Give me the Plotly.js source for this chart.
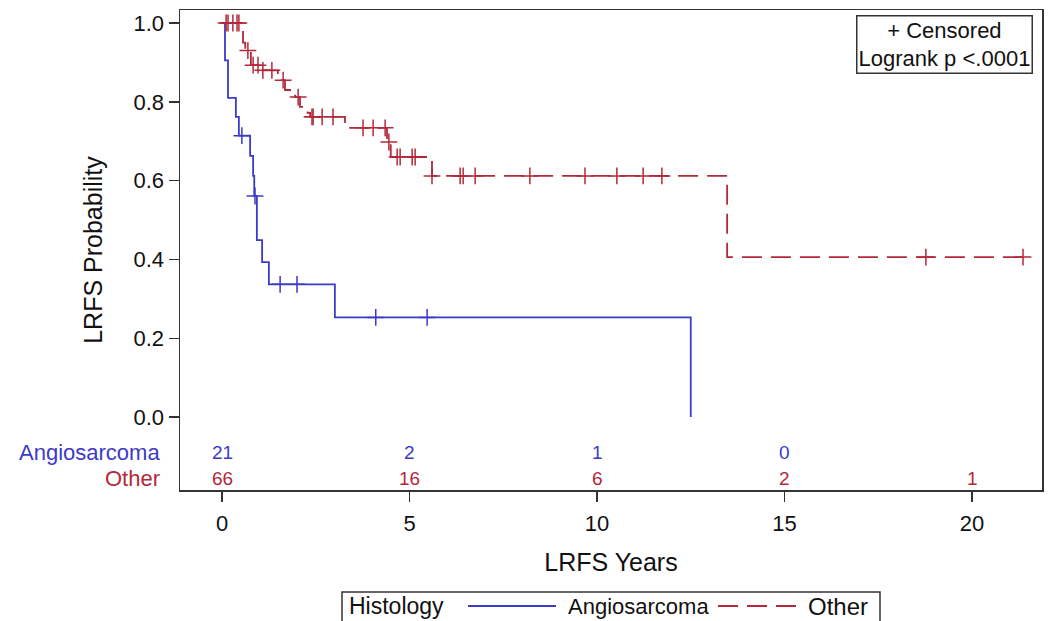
<!DOCTYPE html>
<html>
<head>
<meta charset="utf-8">
<script src="https://cdn.plot.ly/plotly-3.0.1.min.js"></script>
<style>
  html, body { margin: 0; padding: 0; background: #fff; }
  #chart { width: 1053px; height: 621px; }
</style>
</head>
<body>
<div id="chart"></div>
<script>
// ---- Data ----
const angioTimes = [0, 0.08, 0.16, 0.37, 0.45, 0.75, 0.83, 0.86, 0.93, 1.07, 1.25, 3.01, 12.5];
const angioSurv  = [1, 0.905, 0.81, 0.762, 0.714, 0.663, 0.612, 0.561, 0.449, 0.393, 0.337, 0.253, 0];
const angioCensor = [0.53, 0.88, 1.55, 2.0, 4.1, 5.47];

const otherTimes = [0, 0.56, 0.62, 0.77, 1.01, 1.49, 1.68, 1.95, 2.08, 2.28, 2.35, 3.28, 4.4, 4.5, 5.6, 13.47, 21.36];
const otherSurv  = [1, 0.95, 0.93, 0.893, 0.88, 0.855, 0.83, 0.812, 0.787, 0.772, 0.762, 0.734, 0.698, 0.66, 0.612, 0.406, 0.406];
const otherCensor = [0.11, 0.16, 0.29, 0.4, 0.45, 0.69, 0.83, 0.96, 1.09, 1.33, 1.63, 2.03, 2.4, 2.43, 2.67, 2.96,
                     3.76, 4.03, 4.35, 4.45, 4.67, 4.75, 5.07, 5.15, 5.6, 6.35, 6.43, 6.75, 8.21, 9.68, 10.53, 11.23, 11.73,
                     18.77, 21.36];

const riskTimes = [0, 5, 10, 15, 20];
const angioRisk = [21, 2, 1, 0, null];
const otherRisk = [66, 16, 6, 2, 1];

const groupNames = ['Angiosarcoma', 'Other'];
const xTicks = [0, 5, 10, 15, 20];
const yTicks = [0, 0.2, 0.4, 0.6, 0.8, 1.0];

// ---- Styles ----
const BLUE = '#3b3bc8';
const RED = '#b3283a';
const FONT = 'Liberation Sans, Arial, sans-serif';

function stepAt(t, times, surv) {
  let s = surv[0];
  for (let i = 0; i < times.length; i++) { if (times[i] <= t) s = surv[i]; }
  return s;
}

const traces = [
  { x: angioTimes, y: angioSurv, mode: 'lines', line: { shape: 'hv', color: BLUE, width: 1.8 }, showlegend: false, hoverinfo: 'skip' },
  { x: otherTimes, y: otherSurv, mode: 'lines', line: { shape: 'hv', color: RED, width: 1.8, dash: '20px,9px' }, showlegend: false, hoverinfo: 'skip' },
  { x: angioCensor, y: angioCensor.map(t => stepAt(t, angioTimes, angioSurv)), mode: 'markers',
    marker: { symbol: 'cross-thin', size: 12, line: { color: BLUE, width: 1.5 } }, showlegend: false, hoverinfo: 'skip' },
  { x: otherCensor, y: otherCensor.map(t => stepAt(t, otherTimes, otherSurv)), mode: 'markers',
    marker: { symbol: 'cross-thin', size: 12, line: { color: RED, width: 1.5 } }, showlegend: false, hoverinfo: 'skip' }
];

// plot area in pixels: left 180, right 1042, top 10, bottom 490
const L = 180, R = 1042, T = 10, B = 490;
const px = v => (v - L) / (R - L);
const py = v => (B - v) / (B - T);

const annotations = [];
// At-risk numbers
riskTimes.forEach((t, i) => {
  if (angioRisk[i] !== null) annotations.push({ x: t, y: -0.089, xref: 'x', yref: 'y', text: String(angioRisk[i]), showarrow: false,
    font: { family: FONT, size: 19, color: BLUE } });
  if (otherRisk[i] !== null) annotations.push({ x: t, y: -0.155, xref: 'x', yref: 'y', text: String(otherRisk[i]), showarrow: false,
    font: { family: FONT, size: 19, color: RED } });
});
// At-risk row labels
annotations.push({ x: px(162), y: -0.089, xref: 'paper', yref: 'y', xanchor: 'right', text: groupNames[0], showarrow: false,
  font: { family: FONT, size: 22, color: BLUE } });
annotations.push({ x: px(162), y: -0.155, xref: 'paper', yref: 'y', xanchor: 'right', text: groupNames[1], showarrow: false,
  font: { family: FONT, size: 22, color: RED } });
// Censored / logrank box
annotations.push({ x: px(944), y: py(44.5), xref: 'paper', yref: 'paper', xanchor: 'center', yanchor: 'middle',
  text: '+ Censored<br>Logrank p &lt;.0001', showarrow: false, align: 'center',
  font: { family: FONT, size: 22, color: '#111' }, bordercolor: '#333', borderwidth: 1.5, borderpad: 1, bgcolor: '#fff' });
// Bottom legend texts
const legY = py(606);
annotations.push({ x: px(347), y: legY, xref: 'paper', yref: 'paper', xanchor: 'left', yanchor: 'middle', text: 'Histology', showarrow: false,
  font: { family: FONT, size: 23, color: '#111' } });
annotations.push({ x: px(566), y: legY, xref: 'paper', yref: 'paper', xanchor: 'left', yanchor: 'middle', text: groupNames[0], showarrow: false,
  font: { family: FONT, size: 22, color: '#111' } });
annotations.push({ x: px(806), y: legY, xref: 'paper', yref: 'paper', xanchor: 'left', yanchor: 'middle', text: groupNames[1], showarrow: false,
  font: { family: FONT, size: 24, color: '#111' } });

const shapes = [
  { type: 'rect', xref: 'paper', yref: 'paper', x0: px(342), x1: px(880), y0: py(592), y1: py(640),
    line: { color: '#333', width: 1.5 }, fillcolor: 'rgba(0,0,0,0)' },
  { type: 'line', xref: 'paper', yref: 'paper', x0: px(468), x1: px(556), y0: legY, y1: legY, line: { color: BLUE, width: 1.8 } },
  { type: 'line', xref: 'paper', yref: 'paper', x0: px(718), x1: px(796), y0: legY, y1: legY, line: { color: RED, width: 1.8, dash: '20px,9px' } }
];

const layout = {
  width: 1053, height: 621,
  margin: { l: L, r: 1053 - R, t: T, b: 621 - B, pad: 0 },
  paper_bgcolor: '#fff', plot_bgcolor: '#fff',
  font: { family: FONT, color: '#111' },
  xaxis: {
    range: [(L - 222) / 37.5, (R - 222) / 37.5],
    tickvals: xTicks, ticktext: xTicks.map(String),
    ticks: 'outside', ticklen: 10, tickwidth: 1.5, tickcolor: '#333',
    ticklabelstandoff: 3,
    showgrid: false, zeroline: false, showline: true, mirror: true, linecolor: '#333', linewidth: 1.5,
    tickfont: { family: FONT, size: 22, color: '#111' },
    title: { text: 'LRFS Years', font: { family: FONT, size: 25, color: '#111' }, standoff: 18 }
  },
  yaxis: {
    range: [-0.185, 1.033],
    tickvals: yTicks, ticktext: yTicks.map(v => v.toFixed(1)),
    ticks: 'outside', ticklen: 10, tickwidth: 1.5, tickcolor: '#333',
    showgrid: false, zeroline: false, showline: true, mirror: true, linecolor: '#333', linewidth: 1.5,
    tickfont: { family: FONT, size: 22, color: '#111' },
    title: { text: 'LRFS Probability', font: { family: FONT, size: 25, color: '#111' }, standoff: 24 }
  },
  annotations: annotations,
  shapes: shapes,
  showlegend: false
};

Plotly.newPlot('chart', traces, layout, { displayModeBar: false, staticPlot: true });
</script>
</body>
</html>
